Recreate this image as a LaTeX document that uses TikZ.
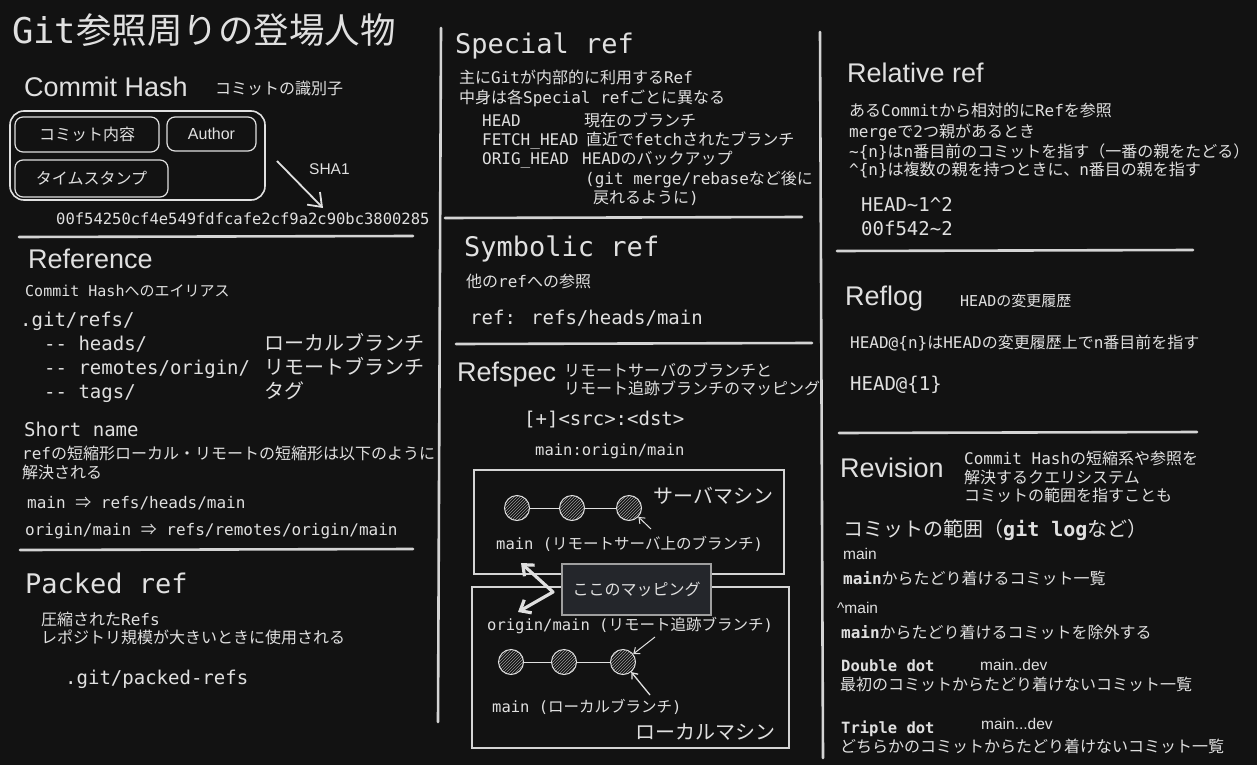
\documentclass[tikz,border=0pt]{standalone}
\usepackage{fontspec}
\setmainfont{Liberation Sans}
\newfontfamily\jp{Noto Sans CJK JP}
\newfontfamily\mf{DejaVu Sans Mono}
\newcommand\latinfont{\mf}
\usetikzlibrary{arrows.meta,patterns}
% automatic switch to the CJK font for Japanese characters
\XeTeXinterchartokenstate=1
\chardef\JClass=10
\newcount\jcnt
\def\setJrange#1#2{\jcnt=#1\relax\loop\ifnum\jcnt<#2\relax\XeTeXcharclass\jcnt=\JClass\advance\jcnt by 1\repeat}
\setJrange{"3000}{"3100}
\setJrange{"4E00}{"A000}
\setJrange{"FF00}{"FFF0}
\XeTeXinterchartoks 0 \JClass={\jp}
\XeTeXinterchartoks 4095 \JClass={\jp}
\XeTeXinterchartoks \JClass 0={\latinfont}
\XeTeXinterchartoks \JClass 4095={\latinfont}
\newcommand\implies{{\jp ⇒}}
\definecolor{bg}{HTML}{121212}
\definecolor{fg}{HTML}{E0E0E0}
\definecolor{ln}{HTML}{D4D4D4}
\definecolor{mapfill}{HTML}{24262B}
\definecolor{hatch}{HTML}{9A9A9A}
\tikzset{
  base/.style={anchor=base west, inner sep=0pt, text=fg},
  t16/.style={base, font=\mf\fontsize{16}{19}\selectfont},
  t15/.style={base, font=\mf\fontsize{15}{18}\selectfont},
  m155/.style={base, font=\mf\fontsize{15.5}{18}\selectfont},
  code/.style={base, font=\mf\fontsize{19}{23}\selectfont},
  hd/.style={base, font=\rmfamily\fontsize{27}{32}\selectfont},
  hdm/.style={base, font=\mf\fontsize{27}{32}\selectfont},
  j20/.style={base, font=\mf\fontsize{20}{24}\selectfont},
  s15/.style={base, font=\rmfamily\fontsize{15.5}{18}\selectfont},
  ttl/.style={base, font=\mf\fontsize{35.5}{40}\selectfont},
  div/.style={draw=ln, line width=2.6, line cap=round},
  pill/.style={draw=fg, rounded corners=8, line width=1.2, inner sep=0pt, text=fg, font=\mf\fontsize{16}{19}\selectfont},
  machine/.style={draw=ln, line width=1.2, inner sep=0pt},
  commit/.style={circle, draw=fg, line width=1, minimum size=25, inner sep=0pt, pattern=north east lines, pattern color=hatch},
  link/.style={draw=fg, line width=1},
  bigarr/.style={draw=fg, line width=1.8, -{Straight Barb[length=12,width=18]}},
  smallarr/.style={draw=fg, line width=1, -{Straight Barb[length=5,width=8]}},
  dblarr/.style={draw=fg, line width=3.2, line join=round, {Straight Barb[length=9,width=15]}-{Straight Barb[length=9,width=15]}},
}
\begin{document}
\begin{tikzpicture}[x=1pt,y=-1pt]
\fill[bg] (0,0) rectangle (1257,765);
\useasboundingbox (0,0) rectangle (1257,765);

% title
\node[ttl] (title) at (12,44) {Git参照周りの登場人物};

% dividers
\draw[div] (441,28) -- (438,722);
\draw[div] (820,32) -- (823,758);
\draw[div] (19,237) -- (413,236);
\draw[div] (20,550) -- (413,549);
\draw[div] (445,218) -- (802,217);
\draw[div] (456,344) -- (812,343);
\draw[div] (837,251) -- (1193,250);
\draw[div] (839,433) -- (1197,432);

% ---------------- Commit Hash
\node[hd] (ch) at (24,97) {Commit Hash};
\node[t16] (chd) at (215,95) {コミットの識別子};
\node[draw=fg, rounded corners=14, line width=1.6, minimum width=255, minimum height=89, inner sep=0pt] (chbox) at (137.5,155.5) {};
\node[pill, minimum width=144, minimum height=35] (b1) at (87,134.5) {コミット内容};
\node[pill, minimum width=89, minimum height=34, font=\rmfamily\fontsize{16}{19}\selectfont] (b2) at (211.5,134) {Author};
\node[pill, minimum width=153, minimum height=37] (b3) at (91.5,178.5) {タイムスタンプ};
\coordinate (sha0) at (277,161);
\coordinate (sha1) at (323,208);
\draw[bigarr] (sha0) -- (sha1);
\node[s15] (sha) at (309,174) {SHA1};
\node[m155] (hash) at (56,224) {00f54250cf4e549fdfcafe2cf9a2c90bc3800285};

% ---------------- Reference
\node[hd] (ref) at (28,268) {Reference};
\node[t15] (refd) at (25,296) {Commit Hashへのエイリアス};
\node[code] (r1) at (20,326) {.git/refs/};
\node[code] (r2) at (44,350) {-{}- heads/};
\node[code] (r3) at (44,374) {-{}- remotes/origin/};
\node[code] (r4) at (44,398) {-{}- tags/};
\node[j20] (r2j) at (264,350) {ローカルブランチ};
\node[j20] (r3j) at (264,374) {リモートブランチ};
\node[j20] (r4j) at (264,398) {タグ};
\node[code] (sn) at (24,436) {Short name};
\node[t16] (snd1) at (22,459) {refの短縮形ローカル・リモートの短縮形は以下のように};
\node[t16] (snd2) at (22,478) {解決される};
\node[t16] (m1) at (27,508) {main \implies{} refs/heads/main};
\node[t16] (m2) at (25,535) {origin/main \implies{} refs/remotes/origin/main};

% ---------------- Packed ref
\node[hdm] (pk) at (25,593) {Packed ref};
\node[t16] (pk1) at (41,625) {圧縮されたRefs};
\node[t16] (pk2) at (41,643) {レポジトリ規模が大きいときに使用される};
\node[code] (pk3) at (65,684) {.git/packed-refs};

% ---------------- Special ref
\node[hdm] (sp) at (455,54) {Special ref};
\node[t16] (sp1) at (459,84) {主にGitが内部的に利用するRef};
\node[t16] (sp2) at (459,103) {中身は各Special refごとに異なる};
\node[t16] (h1) at (482,127) {HEAD};
\node[t16] (h1d) at (584,127) {現在のブランチ};
\node[t16] (h2) at (482,146) {FETCH\_HEAD};
\node[t16] (h2d) at (586,146) {直近でfetchされたブランチ};
\node[t16] (h3) at (482,164) {ORIG\_HEAD};
\node[t16] (h3d) at (582,164) {HEADのバックアップ};
\node[t16] (h4) at (585,184) {(git merge/rebaseなど後に};
\node[t16] (h5) at (593,203) {戻れるように)};

% ---------------- Symbolic ref
\node[hdm] (sy) at (464,256) {Symbolic ref};
\node[t16] (sy1) at (466,287) {他のrefへの参照};
\node[code] (sy2) at (470,324) {ref: refs/heads/main};

% ---------------- Refspec
\node[hd] (rs) at (457,381) {Refspec};
\node[t16] (rs1) at (564,376) {リモートサーバのブランチと};
\node[t16] (rs2) at (564,394) {リモート追跡ブランチのマッピング};
\node[code] (rs3) at (524,425) {[+]<src>:<dst>};
\node[m155] (rs4) at (535,455) {main:origin/main};

\node[machine, minimum width=310, minimum height=104] (srv) at (629,522) {};
\node[machine, minimum width=317, minimum height=161] (loc) at (630.5,667.5) {};
\node[j20] (srvl) at (653,503) {サーバマシン};
\node[j20] (locl) at (635,739) {ローカルマシン};

\node[commit] (s1) at (517,508) {};
\node[commit] (s2) at (572,508) {};
\node[commit] (s3) at (629,508) {};
\draw[link] (s1) -- (s2);
\draw[link] (s2) -- (s3);
\coordinate (sa) at (651,529);
\draw[smallarr] (sa) -- (s3);
\node[m155] (srvm) at (496,549) {main (リモートサーバ上のブランチ)};

\node[m155] (loco) at (487,630) {origin/main (リモート追跡ブランチ)};
\node[commit] (l1) at (511,662) {};
\node[commit] (l2) at (564,662) {};
\node[commit] (l3) at (623,662) {};
\draw[link] (l1) -- (l2);
\draw[link] (l2) -- (l3);
\coordinate (oa) at (655,637);
\draw[smallarr] (oa) -- (l3);
\coordinate (ma) at (650,695);
\draw[smallarr, line width=1.3] (ma) -- (l3);
\node[m155] (locm) at (492,712) {main (ローカルブランチ)};

\node[draw=ln!75!black, fill=mapfill, line width=1.2, minimum width=149, minimum height=51, inner sep=0pt, text=fg, font=\mf\fontsize{16}{19}\selectfont] (map) at (636.5,589.5) {ここのマッピング};
\coordinate (da1) at (521,563);
\coordinate (dab) at (553,592);
\coordinate (da2) at (518,612);
\draw[dblarr] (da1) -- (dab) -- (da2);

% ---------------- Relative ref
\node[hd] (rr) at (847,83) {Relative ref};
\node[t16] (rr1) at (849,117) {あるCommitから相対的にRefを参照};
\node[t16] (rr2) at (849,137) {mergeで2つ親があるとき};
\node[t16] (rr3) at (849,157) {\textasciitilde\{n\}はn番目前のコミットを指す（一番の親をたどる）};
\node[t16] (rr4) at (849,175) {\textasciicircum\{n\}は複数の親を持つときに、n番目の親を指す};
\node[code] (rr5) at (861,211) {HEAD\textasciitilde1\textasciicircum2};
\node[code] (rr6) at (861,235) {00f542\textasciitilde2};

% ---------------- Reflog
\node[hd] (rl) at (845,305) {Reflog};
\node[t15] (rld) at (960,306) {HEADの変更履歴};
\node[t16] (rl1) at (850,348) {HEAD@\{n\}はHEADの変更履歴上でn番目前を指す};
\node[code] (rl2) at (850,390) {HEAD@\{1\}};

% ---------------- Revision
\node[hd] (rv) at (840,477) {Revision};
\node[t16] (rv1) at (964,464) {Commit Hashの短縮系や参照を};
\node[t16] (rv2) at (964,483) {解決するクエリシステム};
\node[t16] (rv3) at (964,501) {コミットの範囲を指すことも};
\node[j20] (rv4) at (843,536) {コミットの範囲（{\bfseries\mf git log}など）};
\node[s15] (rv5) at (843,559) {main};
\node[t16] (rv6) at (843,584) {{\bfseries\mf main}からたどり着けるコミット一覧};
\node[s15] (rv7) at (837,613) {\textasciicircum main};
\node[t16] (rv8) at (841,638) {{\bfseries\mf main}からたどり着けるコミットを除外する};
\node[m155, font=\mf\bfseries\fontsize{15.5}{18}\selectfont] (rv9) at (841,671) {Double dot};
\node[s15] (rv10) at (980,670) {main..dev};
\node[t16] (rv11) at (840,690) {最初のコミットからたどり着けないコミット一覧};
\node[m155, font=\mf\bfseries\fontsize{15.5}{18}\selectfont] (rv12) at (841,733) {Triple dot};
\node[s15] (rv13) at (981,729) {main...dev};
\node[t16] (rv14) at (840,752) {どちらかのコミットからたどり着けないコミット一覧};
\end{tikzpicture}
\end{document}
